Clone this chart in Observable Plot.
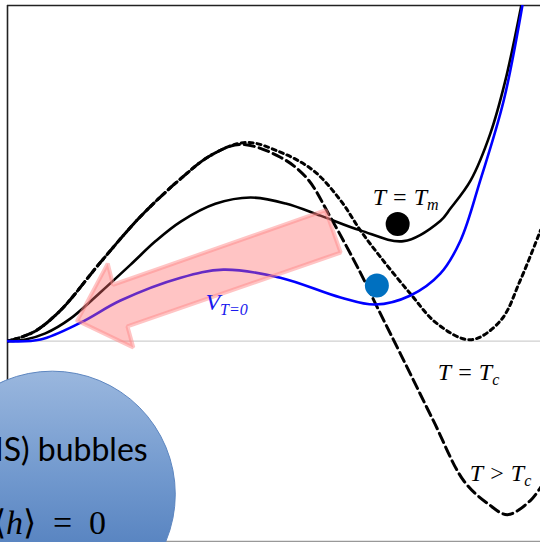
<!DOCTYPE html>
<html><head><meta charset="utf-8">
<script src="https://cdn.jsdelivr.net/npm/d3@7"></script>
<script src="https://cdn.jsdelivr.net/npm/@observablehq/plot@0.6"></script>
<style>html,body{margin:0;padding:0;background:#fff;overflow:hidden}#chart svg{display:block}</style>
</head><body><div id="chart"></div>
<script>
// Field value h (arbitrary units) and potential V (arbitrary units)
const hZero = [0, 0.62, 1.37, 2.12, 3.25, 4.05, 5.12, 6.25, 6.90, 7.56, 8.12, 8.50, 8.87, 9.31, 9.66];
const vZero = [0, 0.05, 0.55, 1.21, 1.89, 2.13, 1.89, 1.30, 1.09, 1.36, 2.01, 3.00, 4.79, 7.17, 10.0];

const hMelt = [0, 0.34, 0.71, 1.18, 1.74, 2.31, 2.78, 3.25, 3.90, 4.56, 5.22, 5.87, 6.62, 7.43, 8.12, 8.31, 8.69, 9.06, 9.34, 9.64];
const vMelt = [0, 0.05, 0.23, 0.67, 1.45, 2.28, 2.98, 3.56, 4.09, 4.28, 4.10, 3.74, 3.30, 2.98, 3.58, 3.95, 4.79, 6.19, 7.76, 10.0];

const hCrit = [0, 0.49, 0.99, 1.74, 2.50, 3.25, 3.81, 4.47, 5.12, 5.74, 6.25, 6.62, 7.00, 7.56, 8.06, 8.69, 9.25, 9.62, 10.0];
const vCrit = [0, 0.27, 0.91, 2.34, 3.72, 4.84, 5.53, 5.92, 5.63, 5.08, 4.19, 3.30, 2.50, 1.41, 0.52, 0.04, 0.61, 1.81, 3.30];

const hHigh = [0, 0.49, 0.99, 1.74, 2.50, 3.25, 3.81, 4.37, 5.12, 5.62, 6.06, 6.62, 6.94, 7.37, 7.99, 8.56, 9.01, 9.38, 9.81, 10.0];
const vHigh = [0, 0.27, 0.91, 2.34, 3.72, 4.84, 5.53, 5.86, 5.48, 4.85, 3.69, 2.04, 1.00, -0.37, -2.37, -4.16, -4.84, -5.17, -4.75, -4.36];

// tunnelling arrow outline (data units)
const arrowH = [1.31, 1.88, 1.98, 5.97, 6.25, 2.25, 2.36, 1.31];
const arrowV = [0.61, 2.31, 1.68, 3.90, 2.64, 0.44, -0.19, 0.61];

// balls (field states)
const ballH = [7.32, 6.93];
const ballV = [3.49, 1.66];
const ballColor = ["#000000", "#0070C0"];

// curve labels ("|" separates the subscript)
const labelText = ["T = T|m", "T = T|c", "T > T|c", "V|T=0"];
const labelH = [7.47, 8.65, 9.25, 4.11];
const labelV = [4.28, -0.93, -3.95, 1.16];
const labelColor = ["#000", "#000", "#000", "#1a1aee"];

// bubble annotation
const bubbleH = [0.84];
const bubbleV = [-4.56];
const bubbleText = ["(MS) bubbles", "⟨|h|⟩ = 0"];
const bubbleTextH = [2.63, 1.85];
const bubbleTextV = [-3.26, -5.43];

const toRows = (hs, vs) => hs.map((h, i) => ({h, v: vs[i]}));
const labels = labelText.map((t, i) => ({t, h: labelH[i], v: labelV[i], c: labelColor[i]}));
const balls = ballH.map((h, i) => ({h, v: ballV[i], c: ballColor[i]}));

const chart = Plot.plot({
  width: 540, height: 542,
  marginLeft: 7, marginRight: 0, marginTop: 5, marginBottom: 0,
  x: {domain: [0, 10], axis: null},
  y: {domain: [-6, 10], axis: null},
  marks: [
    Plot.ruleY([0], {stroke: "#cfcfcf", strokeWidth: 1.2}),
    Plot.ruleY([-5.97], {stroke: "#999", strokeWidth: 1.5}),
    Plot.ruleY([10], {stroke: "#222", strokeWidth: 1.6}),
    Plot.ruleX([0], {stroke: "#222", strokeWidth: 1.6}),
    Plot.line(toRows(hCrit, vCrit), {x: "h", y: "v", curve: "catmull-rom", stroke: "#000", strokeWidth: 3, strokeDasharray: "4,4", clip: true}),
    Plot.line(toRows(hHigh, vHigh), {x: "h", y: "v", curve: "catmull-rom", stroke: "#000", strokeWidth: 3, strokeDasharray: "10,5", clip: true}),
    Plot.line(toRows(hMelt, vMelt), {x: "h", y: "v", curve: "catmull-rom", stroke: "#000", strokeWidth: 2.6, clip: true}),
    Plot.line(toRows(hZero, vZero), {x: "h", y: "v", curve: "catmull-rom", stroke: "#0000ff", strokeWidth: 2.6, clip: true}),
    Plot.line(toRows(arrowH, arrowV), {x: "h", y: "v", curve: "linear", fill: "#ff6b6b", fillOpacity: 0.4, stroke: "#ff8a8a", strokeOpacity: 0.5, strokeWidth: 4, strokeLinejoin: "miter"}),
    Plot.dot(balls, {x: "h", y: "v", r: 12, fill: "c", stroke: null}),
    Plot.text(labels, {x: "h", y: "v", text: "t", fill: "c", fontSize: 24, fontFamily: "Liberation Serif", fontStyle: "italic"}),
    Plot.dot(toRows(bubbleH, bubbleV), {x: "h", y: "v", r: 123, fill: "url(#bubbleGrad)", stroke: "#5d86c0", strokeWidth: 1}),
    Plot.text([bubbleText[0]], {x: bubbleTextH[0], y: bubbleTextV[0], text: d => d, textAnchor: "end", fontSize: 32, fontFamily: "Lato", fill: "#000"}),
    Plot.text([bubbleText[1]], {x: bubbleTextH[1], y: bubbleTextV[1], text: d => d, textAnchor: "end", fontSize: 34, fontFamily: "Liberation Serif", fill: "#000"})
  ]
});

const svg = d3.select(chart);
const defs = svg.insert("defs", ":first-child");
const g = defs.append("linearGradient").attr("id", "bubbleGrad").attr("x1", 0).attr("y1", 0).attr("x2", 0).attr("y2", 1);
g.append("stop").attr("offset", "0%").attr("stop-color", "#9ab7de");
g.append("stop").attr("offset", "45%").attr("stop-color", "#6f97cd");
g.append("stop").attr("offset", "100%").attr("stop-color", "#3f6fb3");

svg.selectAll("text").each(function() {
  const el = d3.select(this);
  const txt = el.text();
  if (!txt.includes("|")) return;
  const parts = txt.split("|");
  el.text(null);
  if (parts.length === 2) {
    el.append("tspan").text(parts[0]);
    el.append("tspan").attr("font-size", "16").attr("dy", "5").text(parts[1]);
  } else {
    el.append("tspan").text(parts[0]);
    el.append("tspan").attr("font-style", "italic").text(parts[1]);
    el.append("tspan").text(parts[2].replace(" = ", "\u2002=\u2002"));
  }
});

document.getElementById("chart").appendChild(chart);
</script>
</body></html>
